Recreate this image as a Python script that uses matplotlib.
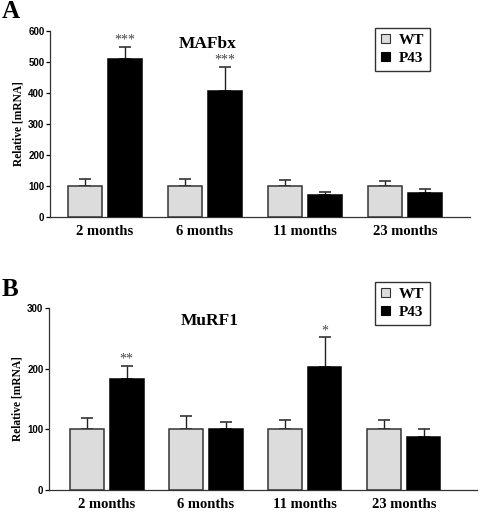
import numpy as np
import matplotlib.pyplot as plt
from matplotlib.patches import Patch

# ----------------------------------------------------------------
# Data
# ----------------------------------------------------------------
months = ["2 months", "6 months", "11 months", "23 months"]

mafbx_wt = [100, 100, 100, 100]
mafbx_wt_err = [24, 21, 18, 17]
mafbx_p43 = [511, 407, 71, 77]
mafbx_p43_err = [38, 77, 11, 13]
mafbx_stars = ["***", "***", "", ""]

murf1_wt = [100, 100, 100, 100]
murf1_wt_err = [18, 22, 15, 16]
murf1_p43 = [183, 100, 202, 87]
murf1_p43_err = [22, 12, 50, 13]
murf1_stars = ["**", "", "*", ""]

WT_COLOR = "#dcdcdc"
P43_COLOR = "#000000"
EDGE = "#333333"
SERIF = "Liberation Serif"
SANS = "Liberation Sans"

plt.rcParams["font.family"] = SERIF
plt.rcParams["font.weight"] = "bold"


def draw_panel(ax, wt, wt_err, p43, p43_err, stars, ymax, step, title, leg_xy):
    x = np.arange(len(months))
    w = 0.34
    zeros = np.zeros(len(months))
    ax.bar(x - 0.2, wt, w, color=WT_COLOR, edgecolor=EDGE, linewidth=1.1, zorder=3)
    ax.bar(x + 0.2, p43, w, color=P43_COLOR, edgecolor="#000000", linewidth=1.1, zorder=3)
    ax.errorbar(x - 0.2, wt, yerr=[zeros, wt_err], fmt="none", ecolor="#222222",
                elinewidth=1.0, capsize=4, capthick=1.1, zorder=2)
    ax.errorbar(x + 0.2, p43, yerr=[zeros, p43_err], fmt="none", ecolor="#222222",
                elinewidth=1.0, capsize=4, capthick=1.1, zorder=2)
    for xi, v, e, s in zip(x, p43, p43_err, stars):
        if s:
            ax.text(xi + 0.2, v + e, s, ha="center", va="bottom", fontsize=10,
                    color="#444444", fontweight="normal")
    ax.set_ylim(0, ymax)
    ax.set_yticks(np.arange(0, ymax + 1, step))
    ax.set_xticks(x)
    ax.set_xticklabels(months, fontsize=10.5, fontweight="bold")
    ax.tick_params(axis="x", length=0, pad=6)
    ax.tick_params(axis="y", length=3, width=0.9, pad=1)
    for lab in ax.get_yticklabels():
        lab.set_fontfamily(SANS)
        lab.set_fontsize(7)
        lab.set_fontweight("bold")
    ax.spines["top"].set_visible(False)
    ax.spines["right"].set_visible(False)
    ax.spines["left"].set_linewidth(0.9)
    ax.spines["bottom"].set_linewidth(0.9)
    ax.spines["left"].set_color("#333333")
    ax.spines["bottom"].set_color("#333333")
    ax.set_ylabel("Relative [mRNA]", fontsize=8.3, fontweight="bold", labelpad=3)
    ax.text(0.375, 0.93, title, transform=ax.transAxes, ha="center", va="center",
            fontsize=12.5, fontweight="bold")
    handles = [Patch(facecolor=WT_COLOR, edgecolor=EDGE, linewidth=0.8),
               Patch(facecolor=P43_COLOR, edgecolor="#000000", linewidth=0.8)]
    leg = ax.legend(handles, ["WT", "P43"], loc="upper left",
                    bbox_to_anchor=leg_xy, bbox_transform=fig.transFigure,
                    fontsize=11, handlelength=0.55, handleheight=0.55,
                    handletextpad=0.6, borderpad=0.4, labelspacing=0.3,
                    borderaxespad=0, fancybox=False, edgecolor=EDGE, framealpha=1)
    leg.get_frame().set_linewidth(1.0)
    for t in leg.get_texts():
        t.set_fontweight("bold")


fig = plt.figure(figsize=(4.81, 5.12), dpi=100)

# Panel A
axA = fig.add_axes([50 / 481, 1 - 217 / 512, 420 / 481, 186 / 512])
draw_panel(axA, mafbx_wt, mafbx_wt_err, mafbx_p43, mafbx_p43_err, mafbx_stars,
           600, 100, "MAFbx", (375 / 481, 1 - 28 / 512))
axA.set_xlim(-0.55, 3.65)

# Panel B
axB = fig.add_axes([49 / 481, 1 - 490 / 512, 428 / 481, 182 / 512])
draw_panel(axB, murf1_wt, murf1_wt_err, murf1_p43, murf1_p43_err, murf1_stars,
           300, 100, "MuRF1", (375 / 481, 1 - 282 / 512))
axB.set_xlim(-0.586, 3.74)

fig.text(2 / 481, 1 - 12 / 512, "A", fontsize=18, fontweight="bold", va="center", ha="left")
fig.text(2 / 481, 1 - 289 / 512, "B", fontsize=18, fontweight="bold", va="center", ha="left")

fig.savefig("out.png", dpi=100)
plt.close(fig)
